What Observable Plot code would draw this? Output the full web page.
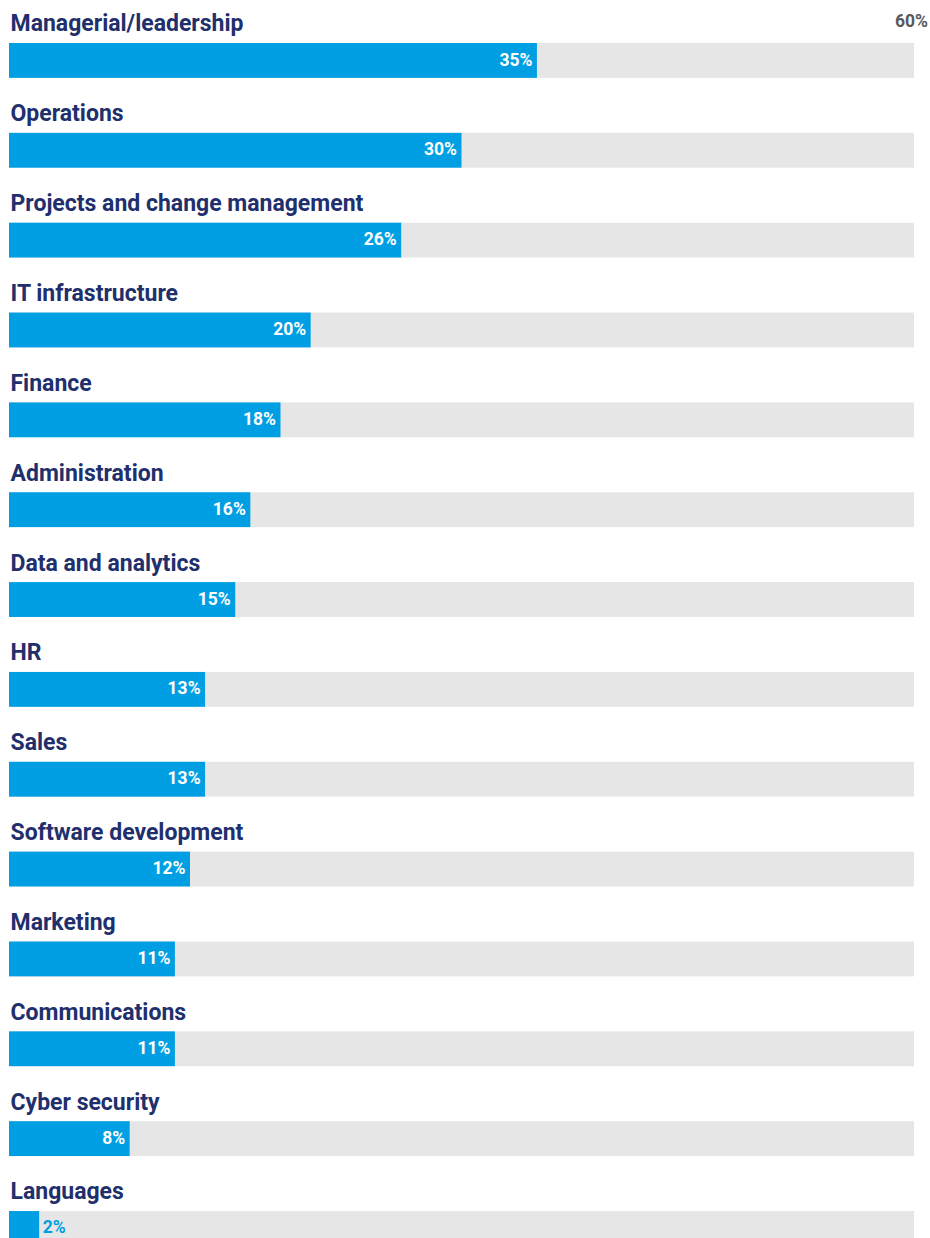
<!DOCTYPE html>
<html>
<head>
<meta charset="utf-8">
<script src="https://cdn.jsdelivr.net/npm/d3@7"></script>
<script src="https://cdn.jsdelivr.net/npm/@observablehq/plot@0.6"></script>
<style>
  html, body { margin: 0; padding: 0; background: #fff; }
  #chart svg { display: block; }
</style>
</head>
<body>
<div id="chart"></div>
<script>
const categories = [
  "Managerial/leadership",
  "Operations",
  "Projects and change management",
  "IT infrastructure",
  "Finance",
  "Administration",
  "Data and analytics",
  "HR",
  "Sales",
  "Software development",
  "Marketing",
  "Communications",
  "Cyber security",
  "Languages"
];
const values = [35, 30, 26, 20, 18, 16, 15, 13, 13, 12, 11, 11, 8, 2];
const xMax = 60;
const axisLabel = "60%";

const data = categories.map((c, i) => ({category: c, value: values[i]}));
const inside = data.filter(d => d.value >= 5);
const outside = data.filter(d => d.value < 5);

const navy = "#212f6c";
const blue = "#009fe3";
const grey = "#e6e6e6";
const font = "Roboto, 'Open Sans', sans-serif";

const rowH = 89.85;
const chart = Plot.plot({
  width: 930,
  height: 1238,
  marginLeft: 9,
  marginRight: 16,
  marginTop: 0,
  marginBottom: 0,
  style: {fontFamily: font, background: "#fff", overflow: "hidden"},
  x: {domain: [0, xMax], axis: null},
  y: {domain: categories, range: [0, categories.length * rowH], padding: 0, round: false, axis: null},
  marks: [
    // background track
    Plot.barX(data, {x1: 0, x2: xMax, y: "category", fill: grey, insetTop: 43, insetBottom: 12}),
    // value bar
    Plot.barX(data, {x1: 0, x2: "value", y: "category", fill: blue, insetTop: 43, insetBottom: 12}),
    // max rule on first row
    Plot.ruleX([xMax], {x: d => d, y: () => categories[0], stroke: "#444", strokeWidth: 1.5, insetTop: 43, insetBottom: 12}),
    // category labels
    Plot.text(data, {x: 0, y: "category", text: "category", textAnchor: "start", lineAnchor: "bottom",
      dy: -14, dx: 1, fill: navy, fontSize: 23, fontWeight: 700}),
    // value labels inside
    Plot.text(inside, {x: "value", y: "category", text: d => d.value + "%", textAnchor: "end",
      dx: -5, dy: 14.5, fill: "#fff", fontSize: 17.5, fontWeight: 700}),
    // value labels outside
    Plot.text(outside, {x: "value", y: "category", text: d => d.value + "%", textAnchor: "start",
      dx: 3, dy: 14, fill: blue, fontSize: 17.5, fontWeight: 700}),
    // 60% axis label
    Plot.text([xMax], {x: d => d, y: () => categories[0], text: () => axisLabel, textAnchor: "middle",
      lineAnchor: "bottom", dx: -3, dy: -18, fill: "#58595b", fontSize: 17.5, fontWeight: 700})
  ]
});
document.getElementById("chart").appendChild(chart);
</script>
</body>
</html>
